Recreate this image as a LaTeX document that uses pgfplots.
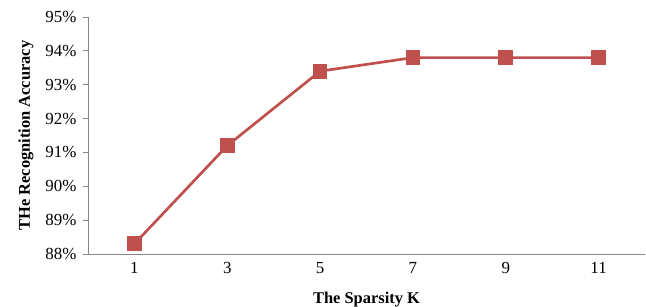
\documentclass[border=0pt]{standalone}
\usepackage{pgfplots}
\pgfplotsset{compat=1.18}
\usepackage{fontspec}
\setmainfont{Liberation Serif}
\definecolor{linered}{RGB}{192,80,77}
\definecolor{axgray}{RGB}{134,134,134}
\begin{document}
\begin{tikzpicture}
\begin{axis}[name=ax, scale only axis, width=557bp, height=237bp,
  xmin=-0.5, xmax=5.5, ymin=88, ymax=95,
  axis x line=bottom, axis y line=left,
  axis line style={axgray, line width=0.9pt, -},
  xtick={0,...,5}, xticklabels={1,3,5,7,9,11},
  x tick style={draw=none},
  ytick={88,...,95},
  y tick style={axgray, line width=0.9pt},
  yticklabel={\pgfmathprintnumber{\tick}\%},
  yticklabel style={xshift=-3bp},
  tick align=outside, major tick length=5bp,
  /pgf/number format/assume math mode=true,
  tick label style={font=\fontsize{17}{19}\selectfont},
  xlabel={The Sparsity K}, ylabel={THe Recognition Accuracy},
  label style={font=\fontsize{16.5}{18}\selectfont\bfseries},
  xlabel style={yshift=-11bp},
  ylabel style={yshift=5bp},
  clip=false]
\addplot[linered, line width=2.7pt, mark=square*, mark size=6bp, mark options={solid}]
  coordinates {(0,88.3)(1,91.2)(2,93.4)(3,93.8)(4,93.8)(5,93.8)};
\end{axis}
\pgfresetboundingbox
\path[use as bounding box] (ax.south west) ++(-88bp,-53bp) rectangle ++(646bp,307bp);
\end{tikzpicture}
\end{document}
